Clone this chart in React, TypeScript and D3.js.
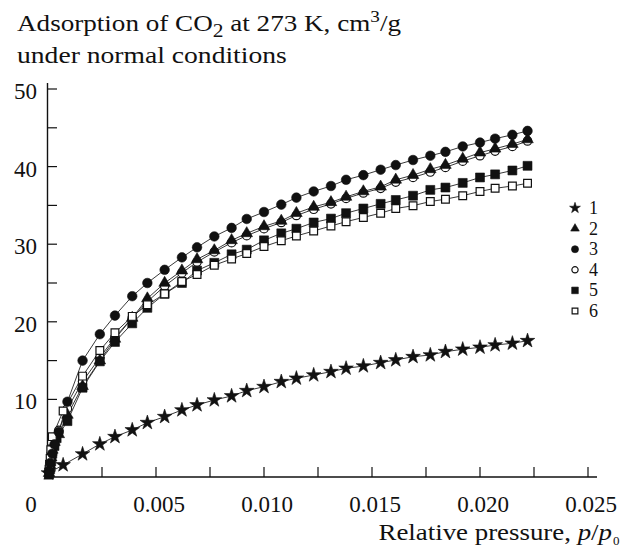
import React from "react";
import * as d3 from "d3";

// shared pressure grid (p/p0) for the main part of every isotherm
const pressure = [
  0.0016, 0.0024, 0.0031, 0.0039, 0.0046, 0.0054, 0.0062, 0.0069, 0.0077, 0.0085,
  0.0092, 0.01, 0.0108, 0.0115, 0.0123, 0.0131, 0.0138, 0.0146, 0.0154, 0.0161,
  0.0169, 0.0177, 0.0184, 0.0192, 0.02, 0.0207, 0.0215, 0.0222,
];

// low pressure points [p/p0, cm3/g] and values on the grid above
const low1 = [[0.00002, 0.5], [0.0007, 1.55]];
const ads1 = [
  2.96, 4.25, 5.19, 6.06, 7.0, 7.77, 8.63, 9.28, 9.92, 10.44, 11.12, 11.64, 12.28, 12.72,
  13.14, 13.57, 14.0, 14.3, 14.73, 15.08, 15.5, 15.72, 16.15, 16.46, 16.71, 17.01, 17.23, 17.56,
];
const low2 = [[0.00005, 0.5], [0.0001, 1.5], [0.00015, 2.5], [0.0002, 3.5], [0.0003, 4.5], [0.0005, 5.5], [0.0009, 8.0]];
const ads2 = [
  11.7, 15.0, 17.8, 20.5, 23.0, 25.0, 26.6, 28.05, 29.2, 30.5, 31.4, 32.3, 33.0, 34.0,
  34.8, 35.4, 36.1, 36.8, 37.4, 38.3, 38.9, 39.65, 40.2, 41.0, 41.8, 42.3, 42.9, 43.5,
];
const low3 = [[0.00005, 0.8], [0.0001, 1.8], [0.0002, 3.0], [0.0003, 4.2], [0.0005, 5.8], [0.0009, 9.7]];
const ads3 = [
  15.0, 18.4, 20.8, 23.3, 25.0, 26.7, 28.3, 29.6, 31.0, 32.1, 33.25, 34.15, 35.1, 36.0,
  36.8, 37.5, 38.3, 38.9, 39.6, 40.2, 40.85, 41.4, 41.9, 42.6, 43.1, 43.6, 44.1, 44.6,
];
const low4 = [[0.00005, 0.7], [0.0001, 1.7], [0.0002, 3.2], [0.0003, 4.4], [0.0005, 6.0], [0.0009, 8.8]];
const ads4 = [
  12.3, 15.4, 18.0, 20.5, 22.6, 24.6, 26.3, 27.7, 29.0, 30.2, 31.1, 32.0, 32.8, 33.7,
  34.5, 35.2, 35.9, 36.6, 37.2, 38.0, 38.6, 39.3, 39.9, 40.7, 41.4, 42.0, 42.6, 43.3,
];
const low5 = [[0.00005, 0.3], [0.0001, 1.0], [0.00015, 2.0], [0.0002, 3.0], [0.0003, 4.0], [0.0004, 5.0], [0.0009, 7.2]];
const ads5 = [
  11.5, 14.9, 17.4, 19.8, 21.8, 23.6, 25.0, 26.6, 27.6, 28.7, 29.3, 30.5, 31.4, 32.0,
  32.8, 33.3, 34.0, 34.6, 35.2, 35.7, 36.25, 37.0, 37.3, 37.9, 38.6, 39.0, 39.5, 40.1,
];
const low6 = [[0.00005, 1.0], [0.00008, 1.6], [0.0001, 2.4], [0.00013, 3.5], [0.00016, 4.6], [0.0002, 5.2], [0.0007, 8.5]];
const ads6 = [
  13.0, 16.3, 18.6, 20.7, 22.2, 23.6, 25.2, 26.1, 27.3, 28.1, 28.8, 29.7, 30.45, 31.06,
  31.7, 32.35, 32.9, 33.45, 34.0, 34.6, 34.96, 35.5, 35.8, 36.25, 36.8, 37.2, 37.5, 37.85,
];

const seriesNames = ["1", "2", "3", "4", "5", "6"];
const xTickValues = [0.005, 0.01, 0.015, 0.02, 0.025];
const xTickLabels = ["0.005", "0.010", "0.015", "0.020", "0.025"];
const yTickValues = [10, 20, 30, 40, 50];
const yTickLabels = ["10", "20", "30", "40", "50"];

const FONT = '"Liberation Serif", "Times New Roman", serif';
const INK = "#111";

const x = d3.scaleLinear().domain([0, 0.025]).range([48, 588]);
const y = d3.scaleLinear().domain([0, 50]).range([477, 89]);

const build = (lowPts: number[][], vals: number[]) =>
  lowPts.map(d => ({ p: d[0], a: d[1] })).concat(vals.map((v, i) => ({ p: pressure[i], a: v })));

const series = [
  { name: seriesNames[0], shape: "star", data: build(low1, ads1) },
  { name: seriesNames[1], shape: "triangle", data: build(low2, ads2) },
  { name: seriesNames[2], shape: "circle", data: build(low3, ads3) },
  { name: seriesNames[3], shape: "ocircle", data: build(low4, ads4) },
  { name: seriesNames[4], shape: "square", data: build(low5, ads5) },
  { name: seriesNames[5], shape: "osquare", data: build(low6, ads6) },
];

// draw order so triangles sit over open circles, like in the figure
const drawOrder = [3, 1, 4, 5, 2, 0];

const symbolFor = (shape: string, small: boolean) => {
  const k = small ? 0.55 : 1;
  if (shape === "star") return d3.symbol(d3.symbolStar, 66 * k)();
  if (shape === "triangle") return d3.symbol(d3.symbolTriangle, 58 * k)();
  if (shape === "circle") return d3.symbol(d3.symbolCircle, 72 * k)();
  if (shape === "ocircle") return d3.symbol(d3.symbolCircle, 56 * k)();
  if (shape === "square") return d3.symbol(d3.symbolSquare, 80 * k)();
  return d3.symbol(d3.symbolSquare, 60 * k)();
};

const Marker = ({ shape, cx, cy, small }: { shape: string; cx: number; cy: number; small?: boolean }) => {
  const open = shape === "ocircle" || shape === "osquare";
  return (
    <path
      d={symbolFor(shape, !!small) || ""}
      transform={`translate(${cx},${cy})`}
      fill={open ? "#fff" : INK}
      stroke={INK}
      strokeWidth={open ? 1.2 : 0.6}
    />
  );
};

export default function App() {
  const line = d3.line<{ p: number; a: number }>().x(d => x(d.p)).y(d => y(d.a));
  const yMinor = d3.range(5, 51, 5);
  const xMinor = d3.range(1, 11).map(i => i * 0.0025);
  const txt = { fontFamily: FONT, fill: INK } as React.CSSProperties;

  return (
    <svg width={630} height={548} style={{ position: "absolute", left: 0, top: 0, background: "#fff", fontFamily: FONT }}>
      {/* title, glyphs widened like the scanned font */}
      <g transform="translate(17,31) scale(1.13,1)">
        <text x={0} y={0} fontSize={24} style={txt}>
          Adsorption of CO<tspan dy={6} fontSize={19}>2</tspan>
          <tspan dy={-6}> at 273 K, cm</tspan>
          <tspan dy={-9} fontSize={17}>3</tspan>
          <tspan dy={9}>/g</tspan>
        </text>
      </g>
      <g transform="translate(17,63) scale(1.15,1)">
        <text x={0} y={0} fontSize={24} style={txt}>under normal conditions</text>
      </g>

      {/* axes */}
      <line x1={47.5} x2={47.5} y1={83} y2={477} stroke={INK} strokeWidth={1.4} />
      <line x1={47} x2={597} y1={477} y2={477} stroke={INK} strokeWidth={1.4} />
      {yMinor.map(v => (
        <line key={v} x1={47.5} x2={57} y1={y(v)} y2={y(v)} stroke={INK} strokeWidth={1.2} />
      ))}
      {xMinor.map(v => (
        <line key={v} x1={x(v)} x2={x(v)} y1={477} y2={467} stroke={INK} strokeWidth={1.2} />
      ))}
      {yTickValues.map((v, i) => (
        <text key={v} x={37} y={y(v) + 10} fontSize={23} textAnchor="end" style={txt}>{yTickLabels[i]}</text>
      ))}
      <text x={31} y={512} fontSize={23} textAnchor="middle" style={txt}>0</text>
      {xTickValues.map((v, i) => (
        <text key={v} x={x(v) + 3} y={512} fontSize={23} textAnchor="middle" style={txt}>{xTickLabels[i]}</text>
      ))}
      <g transform="translate(612,540) scale(1.12,1)">
        <text x={0} y={0} fontSize={24} textAnchor="end" style={txt}>
          Relative pressure, <tspan fontStyle="italic">p</tspan>/<tspan fontStyle="italic">p</tspan>
        </text>
      </g>
      <text x={613} y={545} fontSize={13} style={txt}>0</text>

      {/* curves */}
      {series.map(s => (
        <path key={s.name} d={line(s.data) || ""} fill="none" stroke="#222" strokeWidth={0.9} />
      ))}
      {drawOrder.map(i => (
        <g key={series[i].name}>
          {series[i].data.map((d, j) => (
            <Marker key={j} shape={series[i].shape} cx={x(d.p)} cy={y(d.a)} />
          ))}
        </g>
      ))}

      {/* legend */}
      {series.map((s, i) => (
        <g key={s.name} transform={`translate(575,${208 + i * 20.6})`}>
          <Marker shape={s.shape} cx={0} cy={0} small />
          <text x={14} y={6} fontSize={18} style={txt}>{s.name}</text>
        </g>
      ))}
    </svg>
  );
}
